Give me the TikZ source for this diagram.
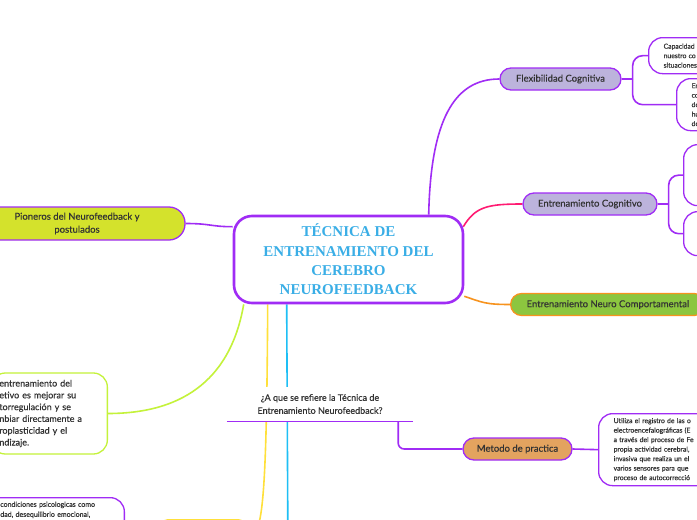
\documentclass[tikz,border=0pt]{standalone}
\usepackage{fontspec}
\setmainfont{Lato}[FakeBold=0.4]
\newfontfamily\titulofont{Liberation Serif}
\usepackage{tikz}
\usetikzlibrary{positioning,calc,backgrounds}
\definecolor{morado}{HTML}{A02CF5}
\definecolor{lila}{HTML}{BCB3DC}
\definecolor{limafill}{HTML}{D4E22C}
\definecolor{limalinea}{HTML}{C4F23A}
\definecolor{amarillo}{HTML}{FFE03A}
\definecolor{cian}{HTML}{1EBFF5}
\definecolor{rosa}{HTML}{FF1B72}
\definecolor{naranja}{HTML}{F7931E}
\definecolor{verde}{HTML}{8CC63F}
\definecolor{canela}{HTML}{E3A35F}
\definecolor{azultitulo}{HTML}{3AAEE6}
\definecolor{tinta}{HTML}{333333}
\tikzset{
  tema/.style={draw=morado,fill=white,line width=2.6pt,rounded corners=18pt,
               minimum width=229pt,minimum height=87pt,align=center,
               font=\titulofont\bfseries\fontsize{15}{19.3}\selectfont,
               text=azultitulo},
  rama/.style={draw=morado,line width=1.3pt,rounded corners=11pt,
               minimum height=22pt,inner sep=0pt,text=tinta,
               font=\fontsize{9.5}{13}\selectfont},
  hoja/.style={draw=morado,fill=white,line width=1.3pt,rounded corners=14pt,
               align=left,inner xsep=15pt,inner ysep=4pt,text=tinta,
               font=\fontsize{6.8}{9.5}\selectfont},
  pregunta/.style={fill=white,minimum width=186pt,minimum height=34pt,
                   inner sep=0pt,align=center,text=tinta,
                   font=\fontsize{9}{13}\selectfont},
  enlace/.style={draw=morado,line width=1.6pt}
}
\begin{document}
\begin{tikzpicture}[x=1pt,y=-1pt]
  \path[use as bounding box] (0,0) rectangle (697,520);
  \node[tema] (tecnica) at (348.5,259.5)
    {TÉCNICA DE\\ENTRENAMIENTO DEL\\CEREBRO\\NEUROFEEDBACK};
  \node[rama,fill=limafill,minimum width=216pt,minimum height=33pt,
        rounded corners=16pt,align=center] (pioneros) at (77,223.5)
    {Pioneros del Neurofeedback y\\postulados};
  \node[rama,fill=lila,minimum width=121pt] (flex) at (560.5,79)
    {Flexibilidad Cognitiva};
  \node[rama,fill=lila,minimum width=134pt] (cognitivo) at (590,204)
    {Entrenamiento Cognitivo};
  \node[rama,fill=verde,draw=naranja,anchor=west,inner xsep=16pt] (neuro)
    at (510,304.5) {Entrenamiento Neuro Comportamental};
  \node[rama,fill=canela,minimum width=109pt] (metodo) at (517.5,449)
    {Metodo de practica};
  \node[pregunta] (pregunta) at (320,404)
    {¿A que se refiere la Técnica de\\Entrenamiento Neurofeedback?};
  \draw[enlace,line width=1.3pt] (pregunta.south west) -- (pregunta.south east);
  % hojas
  \node[hoja,anchor=north west,minimum height=36pt,text width=70pt]
    (capacidad) at (648,37) {Capacidad\\nuestro co\\situaciones};
  \node[hoja,anchor=north west,minimum height=52pt,text width=40pt]
    (ejemplo) at (676,78) {En\\co\\de\\hu\\de};
  \node[hoja,anchor=north west,minimum width=70pt,minimum height=61pt]
    (cog1) at (683,144) {};
  \node[hoja,anchor=north west,minimum width=70pt,minimum height=44pt]
    (cog2) at (683,211) {};
  \node[hoja,anchor=north west,minimum height=72pt,text width=100pt]
    (uso) at (598,413) {Utiliza el registro de las o\\electroencefalográficas (E\\a través del proceso de Fe\\propia actividad cerebral,\\invasiva que realiza un el\\varios sensores para que\\proceso de autocorrecció};
  \node[hoja,draw=limalinea,anchor=east,minimum height=81pt,text width=100pt,
        inner xsep=8pt,font=\fontsize{9}{11.8}\selectfont] (motivo)
    at (108,413.5) {entrenamiento del\\etivo es mejorar su\\torregulación y se\\nbiar directamente a\\roplasticidad y el\\ndizaje.};
  \node[hoja,anchor=north east,text width=110pt,inner xsep=14pt,
        font=\fontsize{7}{10}\selectfont] (sintomas) at (125,497)
    {condiciones psicologicas como\\dad, desequilibrio emocional,\\\strut};
  \node[hoja,draw=amarillo,anchor=north west,minimum width=95pt,
        minimum height=30pt] (amarillo) at (155,519) {};
  \coordinate (abajo) at (288,560);
  \begin{scope}[on background layer]
    \fill[white] (0,0) rectangle (697,520);
    \draw[enlace] (pioneros.east) .. controls +(25,0) and +(-22,0)
      .. ($(tecnica.north west)+(0,12)$);
    \draw[enlace] ($(tecnica.north west)+(196,0)$) .. controls +(2,-95)
      and +(-45,0) .. (flex.west);
    \draw[enlace,draw=rosa] ($(tecnica.north east)+(-1,12)$) .. controls
      +(12,-20) and +(-35,0) .. (cognitivo.west);
    \draw[enlace,draw=naranja] ($(tecnica.south east)+(0,-8)$) .. controls
      +(18,6) and +(-25,0) .. (neuro.west);
    \draw[enlace,draw=limalinea] ($(tecnica.south west)+(11,0)$) .. controls
      +(-12,70) and +(80,0) .. (motivo.east);
    \draw[enlace,draw=amarillo] ($(tecnica.south west)+(35,0)$) .. controls
      +(-1,180) and +(12,0) .. (amarillo.east);
    \draw[enlace,draw=cian] ($(tecnica.south west)+(54,0)$) -- (abajo);
    \draw[enlace,rounded corners=6pt] ($(pregunta.south east)+(-15,0)$)
      |- (metodo.west);
    \draw[enlace] (metodo.east) -- (uso.west);
    \draw[enlace] (flex.east) -- ++(11,0) coordinate (bflex);
    \draw[enlace,rounded corners=10pt] (bflex) |- (capacidad.west);
    \draw[enlace,rounded corners=10pt] (bflex) |- (ejemplo.west);
    \draw[enlace] (cognitivo.east) -- ++(11,0) coordinate (bcog);
    \draw[enlace,rounded corners=10pt] (bcog) |- (cog1.west);
    \draw[enlace,rounded corners=10pt] (bcog) |- (cog2.west);
  \end{scope}
\end{tikzpicture}
\end{document}
